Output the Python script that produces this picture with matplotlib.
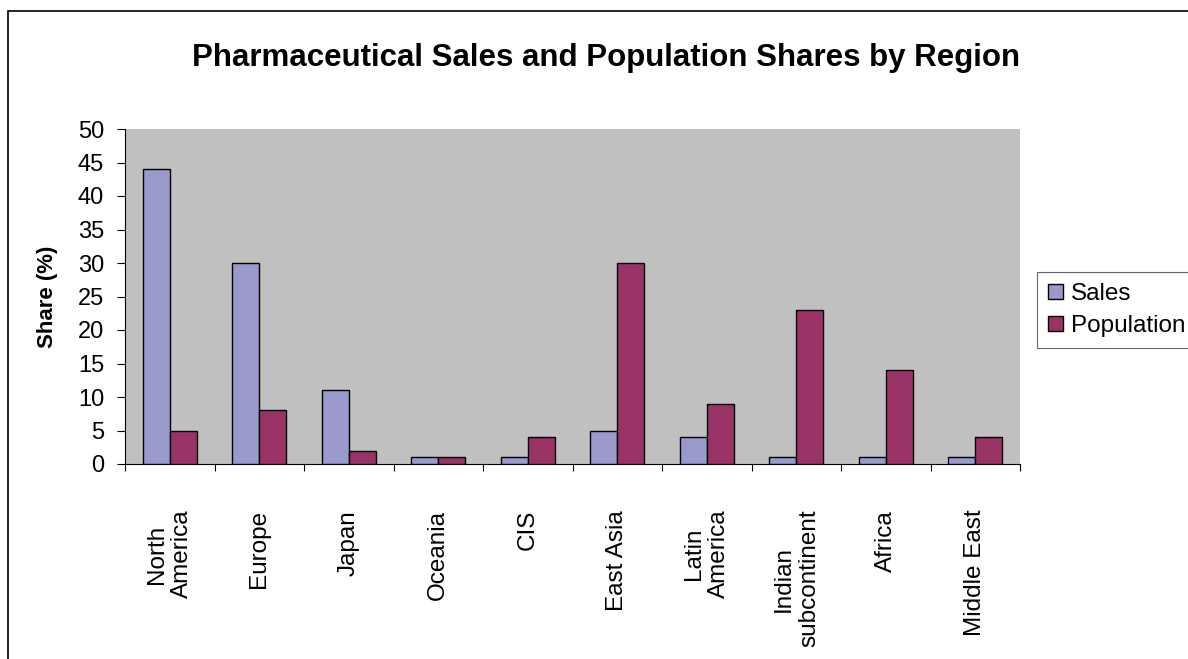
import numpy as np
import matplotlib
matplotlib.use("Agg")
import matplotlib.pyplot as plt
from matplotlib.patches import Rectangle

plt.rcParams['font.family'] = ['Liberation Sans', 'DejaVu Sans']

regions = ["North\nAmerica", "Europe", "Japan", "Oceania", "CIS", "East Asia",
           "Latin\nAmerica", "Indian\nsubcontinent", "Africa", "Middle East"]
sales = [44, 30, 11, 1, 1, 5, 4, 1, 1, 1]
population = [5, 8, 2, 1, 4, 30, 9, 23, 14, 4]
yticks = [0, 5, 10, 15, 20, 25, 30, 35, 40, 45, 50]

W, H = 1188, 659
fig = plt.figure(figsize=(W / 100, H / 100), dpi=100)
fig.patch.set_facecolor("white")

# outer chart frame
fig.patches.append(Rectangle((8 / W, -0.1), 1.2, (H - 11) / H + 0.1,
                             transform=fig.transFigure, fill=False,
                             edgecolor="black", linewidth=1.2))

ax = fig.add_axes([125 / W, (H - 464) / H, (1020 - 125) / W, (464 - 129) / H])
ax.set_facecolor("#C0C0C0")

x = np.arange(len(regions))
bw = 0.30
ax.bar(x - bw / 2, sales, bw, color="#9999CC", edgecolor="black",
       linewidth=1.0, label="Sales", zorder=3)
ax.bar(x + bw / 2, population, bw, color="#993366", edgecolor="black",
       linewidth=1.0, label="Population", zorder=3)

ax.set_xlim(-0.5, len(regions) - 0.5)
ax.set_ylim(0, 50)
ax.set_yticks(yticks)
ax.tick_params(axis="y", length=6, width=0.8, pad=9, labelsize=17, direction="out")

ax.set_xticks(x)
ax.set_xticklabels(regions, rotation=90, fontsize=17.5, va="top", ha="center",
                   multialignment="center")
ax.tick_params(axis="x", which="major", length=0, pad=33)
ax.set_xticks(np.arange(-0.5, len(regions), 1), minor=True)
ax.tick_params(axis="x", which="minor", length=5, width=0.8, direction="out")

for s in ("top", "right"):
    ax.spines[s].set_visible(False)
for s in ("left", "bottom"):
    ax.spines[s].set_linewidth(0.8)

fig.text(47 / W, 1 - 297 / H, "Share (%)", rotation=90, ha="center", va="center",
         fontsize=16, fontweight="bold")

fig.text(606 / W, 1 - 66 / H, "Pharmaceutical Sales and Population Shares by Region",
         ha="center", va="baseline", fontsize=22.5, fontweight="bold")

leg = ax.legend(loc="upper left", bbox_to_anchor=(1037 / W, 1 - 272 / H),
                bbox_transform=fig.transFigure, fontsize=17.5, frameon=True,
                fancybox=False, edgecolor="#404040", handlelength=0.62,
                handleheight=0.62, handletextpad=0.33, borderpad=0.45,
                labelspacing=0.42, borderaxespad=0)
leg.get_frame().set_linewidth(0.8)

fig.savefig("out.png", dpi=100)
